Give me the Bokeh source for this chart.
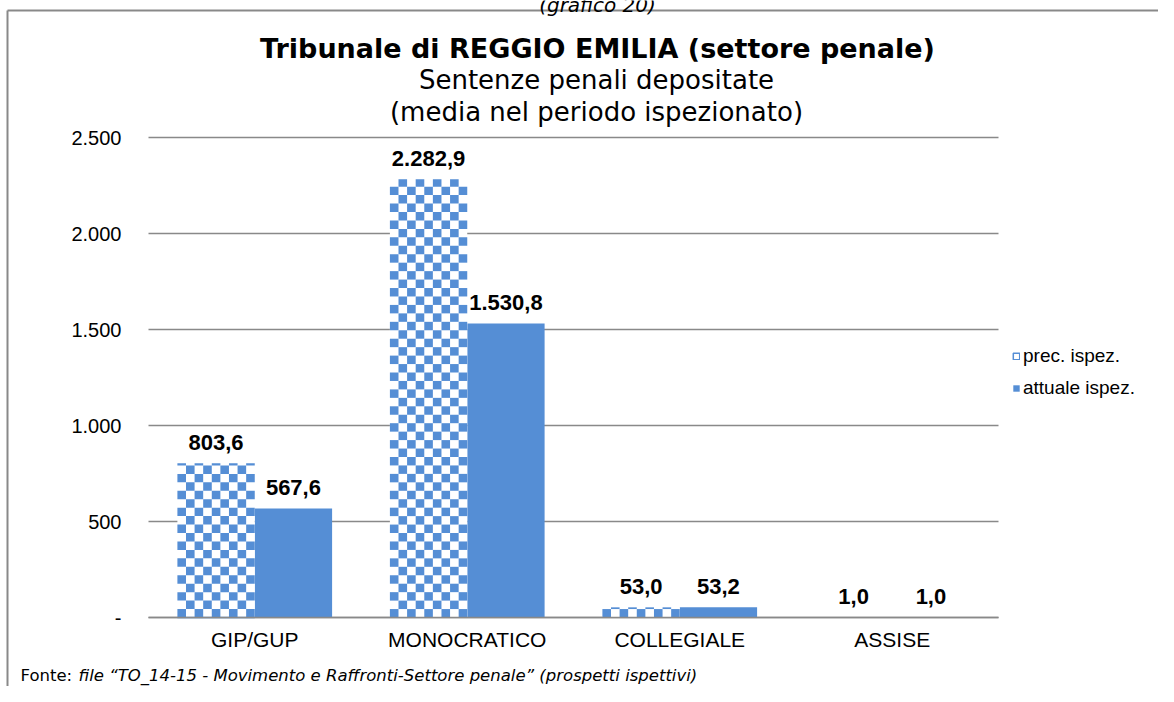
import math
from bokeh.plotting import figure
from bokeh.models import Range1d, FixedTicker, Label, Legend, LegendItem, ColumnDataSource
from bokeh.embed import file_html
from bokeh.resources import INLINE
from bokeh.core.properties import value

# ---------------- data ----------------
categories = ["GIP/GUP", "MONOCRATICO", "COLLEGIALE", "ASSISE"]
prec = [803.6, 2282.9, 53.0, 1.0]
attuale = [567.6, 1530.8, 53.2, 1.0]
series_names = ["prec. ispez.", "attuale ispez."]
y_ticks = [0, 500, 1000, 1500, 2000, 2500]
y_tick_labels = ["-", "500", "1.000", "1.500", "2.000", "2.500"]
title_text = "Tribunale di REGGIO EMILIA (settore penale)"
subtitle_lines = ["Sentenze penali depositate", "(media nel periodo ispezionato)"]
caption_top = "(grafico 20)"
source_prefix = "Fonte: "
source_text = "file \u201cTO_14-15 - Movimento e Raffronti-Settore penale\u201d (prospetti ispettivi)"

# ---------------- style / layout (pixel geometry of the plotting area) ----------------
BLUE = "#558ed5"
GREY = "#898989"
W, H = 1158, 686
PL, PT, PW, PH = 148, 137, 850, 480   # plotting area in canvas px
YMAX = 2500
NCAT = len(categories)
UX = PW / NCAT      # px per category
UY = PH / YMAX      # px per value unit

def cx(px):   # canvas px -> data x
    return (px - PL) / UX

def cy(py):   # canvas px -> data y
    return (PT + PH - py) / UY

def fmt(v):
    s = f"{v:,.1f}"
    return s.replace(",", "X").replace(".", ",").replace("X", ".")

p = figure(width=W, height=H, output_backend="svg", toolbar_location=None,
           title_location=None,
           x_range=Range1d(cx(0), cx(W)), y_range=Range1d(cy(H), cy(0)),
           min_border_left=0, min_border_right=0, min_border_top=0, min_border_bottom=0)
p.outline_line_color = None
p.background_fill_color = "white"
p.border_fill_color = "white"
p.xgrid.visible = False
p.ygrid.visible = False

# gridlines across the category area
p.segment(x0=[0] * len(y_ticks), x1=[NCAT] * len(y_ticks), y0=y_ticks, y1=y_ticks,
          line_color=GREY, line_width=1.6)

# axes drawn at fixed positions inside the canvas
p.yaxis.fixed_location = 0
p.yaxis.bounds = (0, YMAX)
p.yaxis.ticker = FixedTicker(ticks=y_ticks)
p.yaxis.major_label_overrides = {t: l for t, l in zip(y_ticks, y_tick_labels)}
p.yaxis.axis_line_color = None
p.yaxis.major_tick_line_color = None
p.yaxis.minor_tick_line_color = None
p.yaxis.major_label_standoff = 21
p.yaxis.major_label_text_font = "Liberation Sans"
p.yaxis.major_label_text_font_size = "20px"
p.yaxis.major_label_text_color = "black"

cat_x = [i + 0.5 for i in range(NCAT)]
p.xaxis.fixed_location = 0
p.xaxis.bounds = (0, NCAT)
p.xaxis.ticker = FixedTicker(ticks=cat_x)
p.xaxis.major_label_overrides = {x: c for x, c in zip(cat_x, categories)}
p.xaxis.axis_line_color = GREY
p.xaxis.axis_line_width = 1.6
p.xaxis.major_tick_line_color = None
p.xaxis.minor_tick_line_color = None
p.xaxis.major_label_standoff = 4
p.xaxis.major_label_text_font = "Liberation Sans"
p.xaxis.major_label_text_font_size = "21px"
p.xaxis.major_label_text_color = "black"

# bars
bar_w = 0.364
off = 0.182
prec_x = [x - off for x in cat_x]
att_x = [x + off for x in cat_x]

r_att = p.vbar(x=att_x, top=attuale, width=bar_w, fill_color=BLUE, line_color=None)
p.vbar(x=prec_x, top=prec, width=bar_w, fill_color="white", line_color=None)

# checker pattern for the "prec" bars
ncol = 9
cell_h = 44.0
L, R, B, T = [], [], [], []
for bx, v in zip(prec_x, prec):
    left0 = bx - bar_w / 2
    cw = bar_w / ncol
    nrow = math.ceil(v / cell_h)
    for r in range(nrow):
        b = r * cell_h
        t = min(v, b + cell_h)
        for c in range(ncol):
            if (r + c) % 2 == 0:
                L.append(left0 + c * cw)
                R.append(left0 + (c + 1) * cw)
                B.append(b)
                T.append(t)
p.quad(left=L, right=R, bottom=B, top=T, fill_color=BLUE, line_color=None)

# data labels
lab_src = ColumnDataSource(dict(
    x=prec_x + att_x,
    y=prec + attuale,
    t=[fmt(v) for v in prec] + [fmt(v) for v in attuale]))
p.text(x="x", y="y", text="t", source=lab_src, text_align="center",
       text_baseline="alphabetic", y_offset=-21,
       text_font=value("Liberation Sans"), text_font_style="bold",
       text_font_size="22px", text_color="black")

# legend (zero-height stand-in renderer for the patterned series)
r_prec_leg = p.vbar(x=[prec_x[0]], top=[0], width=bar_w, fill_color="white",
                    line_color=BLUE, line_width=1.5)
legend = Legend(items=[LegendItem(label=series_names[0], renderers=[r_prec_leg]),
                       LegendItem(label=series_names[1], renderers=[r_att])],
                location=(1012, H - 399), orientation="vertical",
                glyph_width=8, glyph_height=8, label_standoff=3,
                label_height=20, spacing=10, margin=0, padding=10,
                label_text_font="Liberation Sans", label_text_font_size="19px",
                label_text_color="black",
                border_line_color=None, background_fill_alpha=0)
p.add_layout(legend, "center")

# titles
p.add_layout(Label(x=cx(597), y=cy(48), text=title_text, text_align="center",
                   text_baseline="middle", text_font="DejaVu Sans",
                   text_font_style="bold", text_font_size="27px", text_color="black"))
for i, line in enumerate(subtitle_lines):
    p.add_layout(Label(x=cx(596), y=cy(79 + 32 * i), text=line, text_align="center",
                       text_baseline="middle", text_font="DejaVu Sans",
                       text_font_size="26px", text_color="black"))
p.add_layout(Label(x=cx(597), y=cy(4), text=caption_top, text_align="center",
                   text_baseline="alphabetic", text_font="DejaVu Sans",
                   text_font_style="italic", text_font_size="20px", text_color="black"))

# source note
p.add_layout(Label(x=cx(20), y=cy(675), text=source_prefix, text_align="left",
                   text_baseline="middle", text_font="DejaVu Sans",
                   text_font_size="16.5px", text_color="black"))
p.add_layout(Label(x=cx(78), y=cy(675), text=source_text, text_align="left",
                   text_baseline="middle", text_font="DejaVu Sans",
                   text_font_style="italic", text_font_size="16.5px", text_color="black"))

# outer frame of the chart (left and top edges)
p.segment(x0=[cx(7), cx(7)], y0=[cy(10), cy(10)], x1=[cx(W), cx(7)], y1=[cy(10), cy(H)],
          line_color=GREY, line_width=2)

open("out.html", "w").write(file_html(p, INLINE))
